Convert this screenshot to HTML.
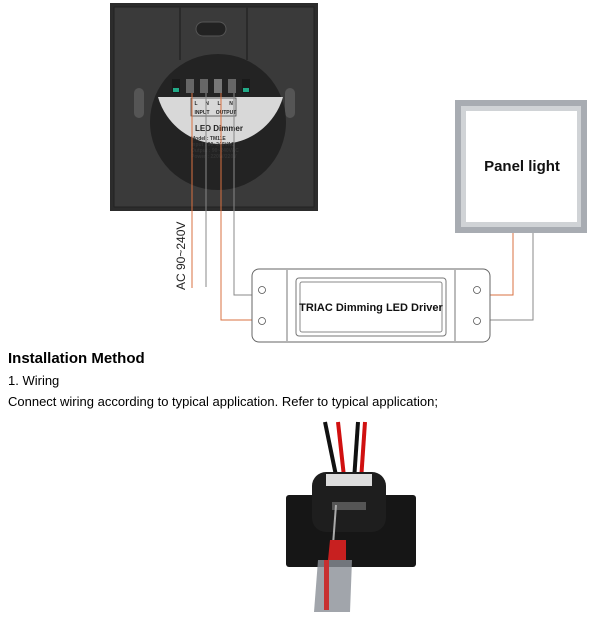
<!DOCTYPE html>
<html><head><style>
body{margin:0;background:#fff;width:615px;height:630px;overflow:hidden;font-family:"Liberation Sans",Arial,sans-serif}
</style></head><body>
<svg width="615" height="630" xmlns="http://www.w3.org/2000/svg" style="position:absolute;left:0;top:0">
<!-- dimmer -->
<rect x="110" y="3" width="208" height="208" fill="#2c2c2c"/>
<rect x="114" y="7" width="200" height="200" fill="#3a3a3a" stroke="#222"/>
<line x1="180" y1="7" x2="180" y2="60" stroke="#2a2a2a" stroke-width="2"/>
<line x1="247" y1="7" x2="247" y2="60" stroke="#2a2a2a" stroke-width="2"/>
<rect x="196" y="22" width="30" height="14" rx="7" fill="#222" stroke="#555"/>
<rect x="134" y="88" width="10" height="30" rx="5" fill="#555"/>
<rect x="285" y="88" width="10" height="30" rx="5" fill="#555"/>
<circle cx="218" cy="122" r="68" fill="#232323"/>
<path d="M158 97 L283 97 A65 65 0 0 1 158 97 Z" fill="#d8d8d8"/>
<rect x="172" y="79" width="8" height="14" fill="#1a1a1a"/><rect x="173" y="88" width="6" height="4" fill="#2a8"/>
<rect x="186" y="79" width="8" height="14" fill="#666"/>
<rect x="200" y="79" width="8" height="14" fill="#666"/>
<rect x="214" y="79" width="8" height="14" fill="#777"/>
<rect x="228" y="79" width="8" height="14" fill="#666"/>
<rect x="242" y="79" width="8" height="14" fill="#1a1a1a"/><rect x="243" y="88" width="6" height="4" fill="#2a8"/>
<rect x="191" y="98" width="45" height="18" fill="none" stroke="#333" stroke-width="0.7"/>
<g font-size="5" font-weight="bold" fill="#222" text-anchor="middle">
<text x="196" y="105">L</text><text x="207" y="105">N</text><text x="219" y="105">L</text><text x="231" y="105">N</text>
<text x="202" y="114">INPUT</text><text x="226" y="114">OUTPUT</text>
<text x="219" y="131" font-size="8">LED Dimmer</text>
</g>
<g font-size="5" font-weight="bold" fill="#333">
<text x="191" y="140">Model  : TM11E</text><text x="191" y="146">Input  : 90~240VAC</text>
<text x="191" y="152">Output : 90~240VAC</text><text x="191" y="158">Power : 220W/220V</text>
</g>
<!-- wires -->
<g fill="none" stroke-width="1">
<line x1="192" y1="93" x2="192" y2="288" stroke="#d87040"/>
<line x1="206" y1="93" x2="206" y2="287" stroke="#888"/>
<polyline points="221,93 221,320 258,320" stroke="#d87040"/>
<polyline points="234,93 234,295 258,295" stroke="#888"/>
<polyline points="488,295 513,295 513,233" stroke="#d87040"/>
<polyline points="488,320 533,320 533,233" stroke="#888"/>
</g>
<text transform="translate(185,290) rotate(-90)" font-size="12" fill="#222">AC 90~240V</text>
<!-- driver -->
<rect x="252" y="269" width="238" height="73" rx="7" fill="#fff" stroke="#666"/>
<line x1="287" y1="270" x2="287" y2="341" stroke="#777"/>
<line x1="455" y1="270" x2="455" y2="341" stroke="#777"/>
<rect x="296" y="278" width="150" height="58" rx="3" fill="none" stroke="#777"/>
<rect x="300" y="282" width="142" height="50" rx="2" fill="none" stroke="#888"/>
<g fill="none" stroke="#555" stroke-width="0.8">
<circle cx="262" cy="290" r="3.5"/><circle cx="262" cy="321" r="3.5"/>
<circle cx="477" cy="290" r="3.5"/><circle cx="477" cy="321" r="3.5"/>
</g>
<text x="371" y="311" font-size="11" font-weight="bold" text-anchor="middle" fill="#111">TRIAC Dimming LED Driver</text>
<!-- panel -->
<rect x="455" y="100" width="132" height="133" fill="#a8acb2"/>
<rect x="461" y="106" width="120" height="121" fill="#d0d3d6"/>
<rect x="466" y="111" width="111" height="111" fill="#fff"/>
<text x="522" y="171" font-size="15" font-weight="bold" text-anchor="middle" fill="#111">Panel light</text>
<!-- bottom photo -->
<line x1="325" y1="422" x2="340" y2="495" stroke="#111" stroke-width="4"/>
<line x1="338" y1="422" x2="346" y2="495" stroke="#d01010" stroke-width="4"/>
<line x1="358" y1="422" x2="353" y2="495" stroke="#111" stroke-width="4"/>
<line x1="365" y1="422" x2="360" y2="495" stroke="#d01010" stroke-width="4"/>
<rect x="286" y="495" width="130" height="72" rx="3" fill="#161616"/>
<rect x="312" y="472" width="74" height="60" rx="14" fill="#1e1e1e"/>
<rect x="326" y="474" width="46" height="12" fill="#ddd"/>
<rect x="332" y="502" width="34" height="8" fill="#555"/>
<line x1="336" y1="505" x2="333" y2="545" stroke="#aaa" stroke-width="2"/>
<polygon points="330,540 346,540 346,560 328,560" fill="#c82020"/>
<polygon points="318,560 352,560 350,612 314,612" fill="#8a8e96" opacity="0.8"/>
<rect x="324" y="560" width="5" height="50" fill="#c83030"/>
</svg>
<div style="position:absolute;left:8px;top:350px;font-size:15px;font-weight:bold;color:#000">Installation Method</div>
<div style="position:absolute;left:8px;top:373px;font-size:13px;color:#000">1. Wiring</div>
<div style="position:absolute;left:8px;top:394px;font-size:13px;color:#000">Connect wiring according to typical application. Refer to typical application;</div>
</body></html>
